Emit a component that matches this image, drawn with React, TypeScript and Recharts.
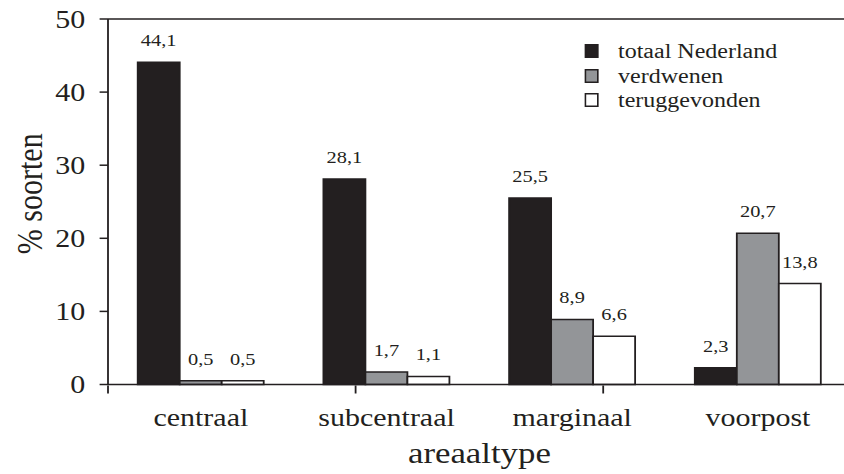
import { BarChart, Bar, XAxis, YAxis, LabelList, Legend, ReferenceLine } from "recharts";

const categories = ["centraal", "subcentraal", "marginaal", "voorpost"];
const totaalNederland = [44.1, 28.1, 25.5, 2.3];
const verdwenen = [0.5, 1.7, 8.9, 20.7];
const teruggevonden = [0.5, 1.1, 6.6, 13.8];
const yTicks = [0, 10, 20, 30, 40, 50];
const boundaryTicks = [0, 1, 2, 3, 4];

const seriesNames = ["totaal Nederland", "verdwenen", "teruggevonden"];

const data = categories.map((c, i) => ({
  type: c,
  totaal: totaalNederland[i],
  verdwenen: verdwenen[i],
  terug: teruggevonden[i],
}));

const ink = "#231f20";
const font = "Liberation Serif, DejaVu Serif, serif";
const fills = [ink, "#939598", "#ffffff"];

const fmt = (v: any) => String(v).replace(".", ",");

const LegendBox = () => (
  <div style={{ fontFamily: font, color: ink, fontSize: 20 }}>
    {seriesNames.map((name, i) => (
      <div key={name} style={{ display: "flex", alignItems: "center", height: 24.5 }}>
        <svg width={12} height={14} style={{ marginRight: 16 }}>
          <rect x={0.75} y={0.75} width={10.5} height={12.5} fill={fills[i]} stroke={ink} strokeWidth={1.5} />
        </svg>
        <span style={{ lineHeight: "20px" }}>{name}</span>
      </div>
    ))}
  </div>
);

const YTitle = ({ viewBox }: any) => {
  const cx = viewBox.x + 25;
  const cy = viewBox.y + viewBox.height / 2 - 8;
  return (
    <text
      x={cx}
      y={cy}
      transform={`rotate(-90 ${cx} ${cy})`}
      textAnchor="middle"
      dominantBaseline="central"
      style={{ fontFamily: font }}
      fontSize={30}
      fill={ink}
    >
      % soorten
    </text>
  );
};

const NoTick = () => <g />;

export default function App() {
  return (
    <div style={{ position: "absolute", left: 0, top: 0, width: 844, height: 474, overflow: "hidden", background: "#fff", fontFamily: font }}>
      <div style={{ width: 710, height: 474, transform: "scaleX(1.2)", transformOrigin: "0 0" }}>
        <BarChart
          width={710}
          height={474}
          data={data}
          margin={{ top: 19, right: 1, left: 0, bottom: 0 }}
          barCategoryGap="16%"
          barGap={0}
          style={{ fontFamily: font }}
        >
          <XAxis
            dataKey="type"
            height={1}
            tickLine={false}
            tickSize={0}
            tickMargin={24}
            axisLine={{ stroke: ink, strokeWidth: 1.5 }}
            tick={{ fill: ink, fontSize: 25, style: { fontFamily: font } }}
          />
          <XAxis
            xAxisId="grid"
            type="number"
            domain={[0, 4]}
            ticks={boundaryTicks}
            height={88.5}
            tick={<NoTick />}
            axisLine={false}
            tickSize={8}
            tickLine={{ stroke: ink, strokeWidth: 1.5 }}
            allowDataOverflow
            label={{ value: "areaaltype", position: "insideBottom", offset: 11, fill: ink, fontSize: 29, style: { fontFamily: font } }}
          />
          <YAxis
            domain={[0, 50]}
            ticks={yTicks}
            width={90}
            tickSize={7}
            tickMargin={12}
            axisLine={{ stroke: ink, strokeWidth: 1.5 }}
            tickLine={{ stroke: ink, strokeWidth: 1.5 }}
            tick={{ fill: ink, fontSize: 25, style: { fontFamily: font } }}
            label={<YTitle />}
          />
          <ReferenceLine y={50} stroke={ink} strokeWidth={1.5} />
          <Legend
            layout="vertical"
            align="center"
            verticalAlign="middle"
            content={<LegendBox />}
            wrapperStyle={{ left: 487, top: 39, width: 220 }}
          />
          <Bar dataKey="totaal" name={seriesNames[0]} fill={fills[0]} stroke={ink} strokeWidth={1.5} isAnimationActive={false}>
            <LabelList dataKey="totaal" position="top" offset={16} formatter={fmt} fill={ink} fontSize={17} style={{ fontFamily: font }} />
          </Bar>
          <Bar dataKey="verdwenen" name={seriesNames[1]} fill={fills[1]} stroke={ink} strokeWidth={1.5} isAnimationActive={false}>
            <LabelList dataKey="verdwenen" position="top" offset={16} formatter={fmt} fill={ink} fontSize={17} style={{ fontFamily: font }} />
          </Bar>
          <Bar dataKey="terug" name={seriesNames[2]} fill={fills[2]} stroke={ink} strokeWidth={1.5} isAnimationActive={false}>
            <LabelList dataKey="terug" position="top" offset={16} formatter={fmt} fill={ink} fontSize={17} style={{ fontFamily: font }} />
          </Bar>
        </BarChart>
      </div>
    </div>
  );
}
